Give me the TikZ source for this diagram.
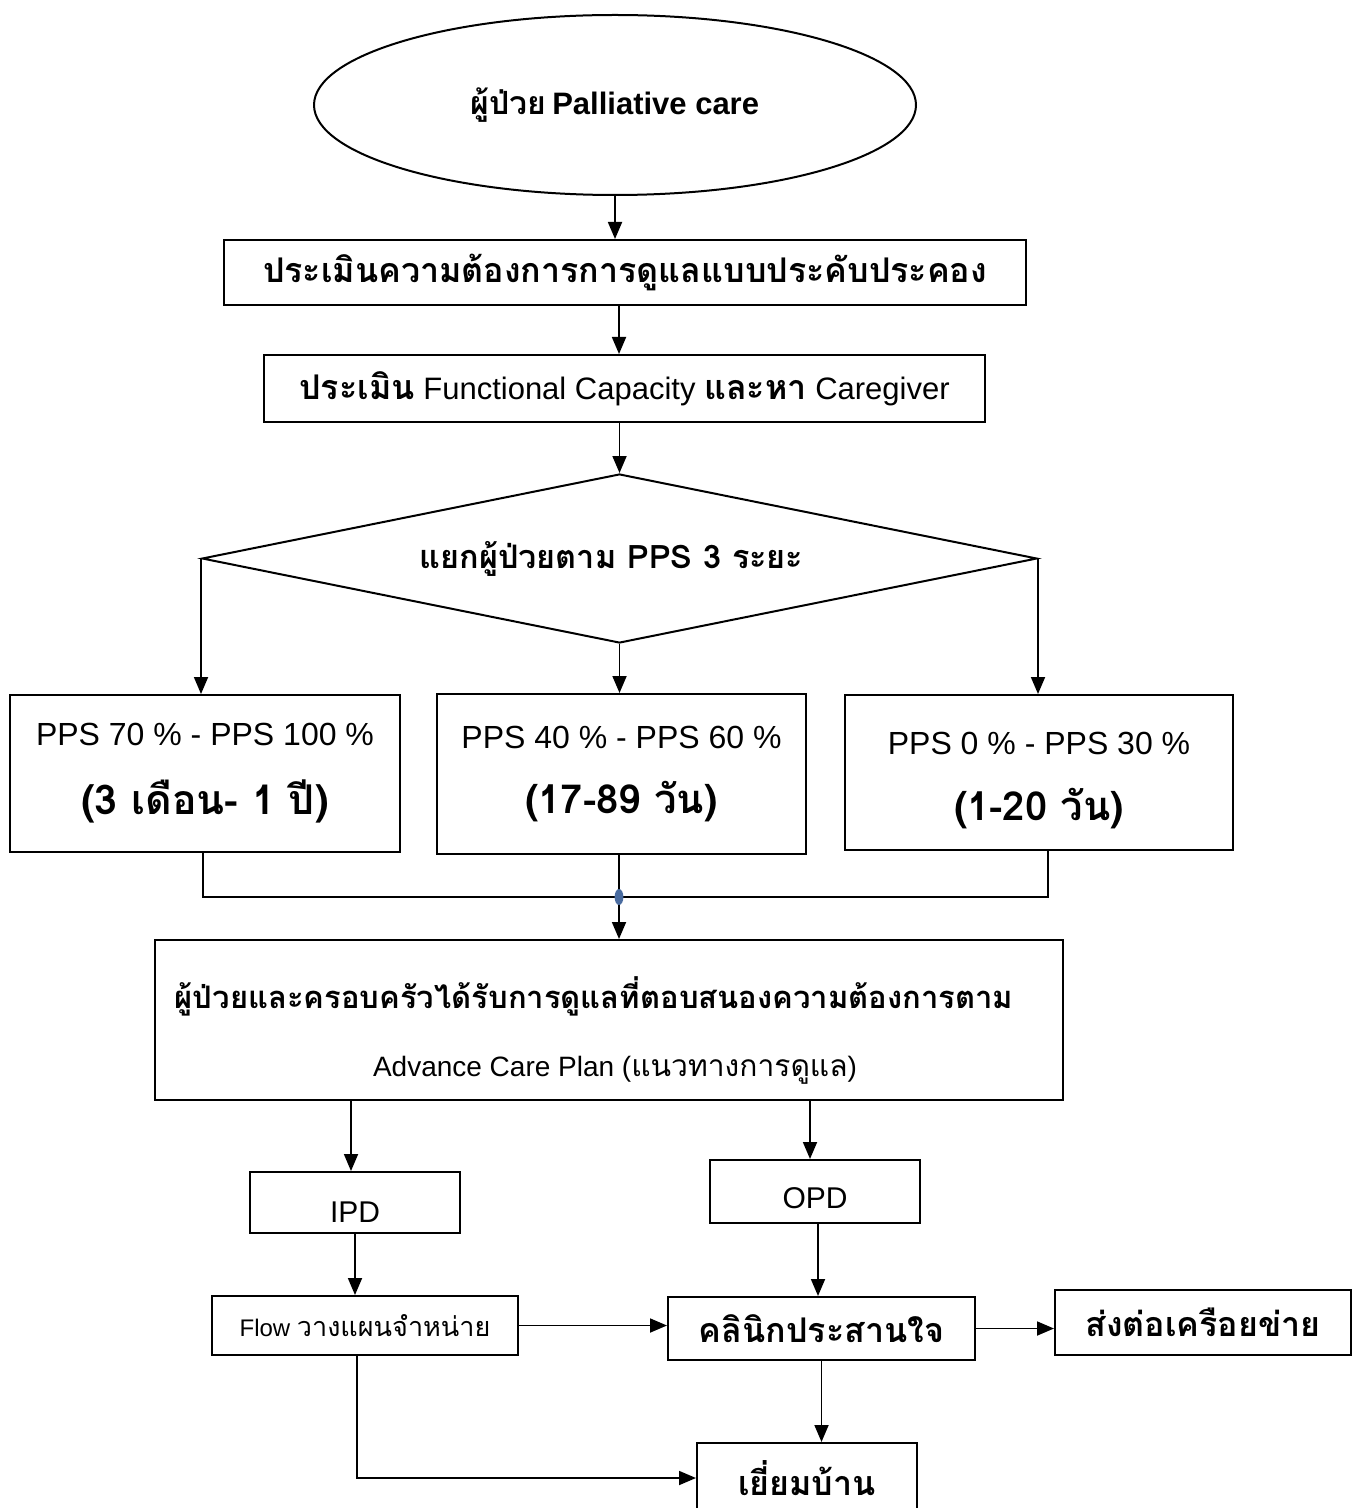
\documentclass[tikz,border=0pt]{standalone}
\usepackage{fontspec}
\setmainfont{Liberation Sans}
\newfontfamily\thai[Script=Thai]{Loma}
\usetikzlibrary{shapes.geometric,arrows.meta}
\tikzset{
  box/.style={draw, line width=1pt, rectangle, inner sep=0pt, align=center},
  arr/.style={line width=0.9pt, -{Triangle[length=8.5pt,width=7pt]}},
  ln/.style={line width=0.9pt},
}
\begin{document}
\begin{tikzpicture}[x=0.5pt,y=-0.5pt]
\useasboundingbox (0,0) rectangle (1352,1508);
\fill[white] (0,0) rectangle (1352,1508);
% nodes
\node[draw, line width=1pt, ellipse, minimum width=301pt, minimum height=90pt, inner sep=0pt] (start) at (615,105)
  {{\thai\bfseries\fontsize{16}{18}\selectfont ผู้ป่วย} {\bfseries\fontsize{15.5}{18}\selectfont Palliative care}};
\node[box, minimum width=401pt, minimum height=32.5pt, font=\thai\bfseries\fontsize{17}{20}\selectfont] (assess) at (625,272.5)
  {ประเมินความต้องการการดูแลแบบประคับประคอง};
\node[box, minimum width=360.5pt, minimum height=33.5pt, font=\fontsize{15.5}{18}\selectfont] (func) at (624.5,388.5)
  {{\thai\bfseries\fontsize{17}{20}\selectfont ประเมิน} Functional Capacity {\thai\bfseries\fontsize{17}{20}\selectfont และหา} Caregiver};
\node[draw, line width=1pt, diamond, shape aspect=5, minimum width=417.5pt, minimum height=84.5pt, inner sep=0pt,
  font=\thai\bfseries\fontsize{16.2}{19}\selectfont] (split) at (619.5,558.5)
  {\hspace*{-8pt}แยกผู้ป่วยตาม PPS 3 ระยะ};
\node[box, minimum width=195pt, minimum height=78.5pt] (b3a) at (205,773.5)
  {\fontsize{16}{19}\selectfont PPS 70 \% - PPS 100 \%\\[16pt]{\thai\bfseries\fontsize{20.5}{24}\selectfont (3 เดือน- 1 ปี)}};
\node[box, minimum width=184.5pt, minimum height=80pt] (b3b) at (621.5,774)
  {\fontsize{16}{19}\selectfont PPS 40 \% - PPS 60 \%\\[15pt]{\thai\bfseries\fontsize{20}{24}\selectfont (17-89 วัน)}};
\node[box, minimum width=194pt, minimum height=77.5pt] (b3c) at (1039,772.5)
  {\rule{0pt}{19pt}\fontsize{16}{19}\selectfont PPS 0 \% - PPS 30 \%\\[16pt]{\thai\bfseries\fontsize{20}{24}\selectfont (1-20 วัน)}};
\node[box, minimum width=454pt, minimum height=80pt] (care) at (609,1020)
  {\hspace*{-15pt}\rule{0pt}{26pt}{\thai\bfseries\fontsize{15.5}{18}\selectfont ผู้ป่วยและครอบครัวได้รับการดูแลที่ตอบสนองความต้องการตาม}\\[19pt]
   \hspace*{6pt}{\fontsize{14}{17}\selectfont Advance Care Plan ({\thai\fontsize{15}{17}\selectfont แนวทางการดูแล})}};
\node[box, minimum width=105pt, minimum height=30.5pt, text height=19.5pt, text depth=0pt,
  font=\fontsize{15}{18}\selectfont] (ipd) at (355,1202.5) {IPD};
\node[box, minimum width=105pt, minimum height=31.5pt, text height=16.5pt, text depth=0pt,
  font=\fontsize{15}{18}\selectfont] (opd) at (815,1191.5) {OPD};
\node[box, minimum width=153pt, minimum height=29.5pt, font=\fontsize{12}{14}\selectfont] (flow) at (365,1325.5)
  {Flow {\thai\fontsize{13.5}{15}\selectfont วางแผนจำหน่าย}};
\node[box, minimum width=153.5pt, minimum height=31.5pt, font=\thai\bfseries\fontsize{17}{20}\selectfont] (clinic) at (821.5,1328.5)
  {คลินิกประสานใจ};
\node[box, minimum width=148pt, minimum height=32.5pt, font=\thai\bfseries\fontsize{17}{20}\selectfont] (refer) at (1203,1322.5)
  {ส่งต่อเครือยข่าย};
\node[box, minimum width=110pt, minimum height=35pt, font=\thai\bfseries\fontsize{17}{20}\selectfont] (visit) at (807,1478)
  {เยี่ยมบ้าน};
% connectors
\draw[arr] (start.south) -- (start.south |- assess.north);
\draw[arr] ([xshift=-3pt]assess.south) -- ([xshift=-3pt]assess.south |- func.north);
\draw[arr] (split.north |- func.south) -- (split.north);
\draw[arr] (split.west) -- (split.west |- b3a.north);
\draw[arr] (split.south) -- (split.south |- b3b.north);
\draw[arr] (split.east) -- (split.east |- b3c.north);
\coordinate (m) at (619,897);
\draw[ln] ([xshift=-1pt]b3a.south) |- (m);
\draw[ln] ([xshift=4.5pt]b3c.south) |- (m);
\draw[ln] (m |- b3b.south) -- (m);
\draw[arr] (m) -- (m |- care.north);
\fill[fill={rgb,255:red,74;green,108;blue,160}] (m) ellipse [x radius=2.2pt, y radius=4pt];
\draw[arr] ([xshift=-2pt]ipd.north |- care.south) -- ([xshift=-2pt]ipd.north);
\draw[arr] ([xshift=-2.5pt]opd.north |- care.south) -- ([xshift=-2.5pt]opd.north);
\draw[arr] (ipd.south) -- (ipd.south |- flow.north);
\draw[arr] ([xshift=1.5pt]opd.south) -- ([xshift=1.5pt]opd.south |- clinic.north);
\draw[arr] (flow.east) -- (flow.east -| clinic.west);
\draw[arr] (clinic.east) -- (clinic.east -| refer.west);
\draw[arr] (clinic.south) -- (clinic.south |- visit.north);
\draw[arr] ([xshift=-4pt]flow.south) |- (visit.west);
\end{tikzpicture}
\end{document}
